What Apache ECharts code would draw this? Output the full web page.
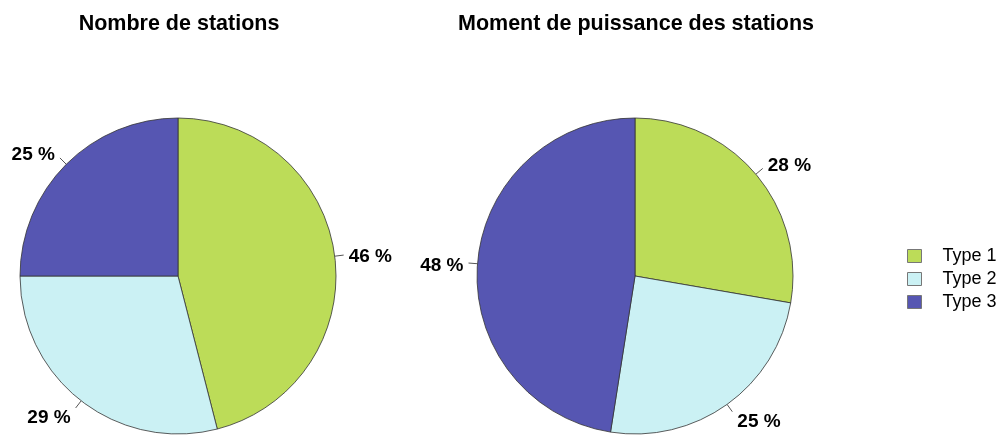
<!DOCTYPE html>
<html>
<head>
<meta charset="utf-8">
<script src="https://cdn.jsdelivr.net/npm/echarts@6/dist/echarts.min.js"></script>
<style>
  html, body { margin: 0; padding: 0; background: #fff; }
  #chart { width: 1005px; height: 435px; }
</style>
</head>
<body>
<div id="chart"></div>
<script>
// Station types and their shares (percent)
const types = ['Type 1', 'Type 2', 'Type 3'];
const stationCount = [46, 29, 25];
const stationMoment = [28, 25, 48];
const titles = ['Nombre de stations', 'Moment de puissance des stations'];
const colors = ['#bcdc58', '#cbf1f4', '#5656b2'];

const font = 'Liberation Sans, Arial, Helvetica, sans-serif';
const seriesValues = [stationCount, stationMoment];

// Vertical nudge for a slice label: labels in the lower half sit below the end
// of their tick, labels in the upper half sit above it.
function labelShift(values, i) {
  const sum = values.reduce((a, b) => a + b, 0);
  let before = 0;
  for (let k = 0; k < i; k++) before += values[k];
  const theta = 2 * Math.PI * (before + values[i] / 2) / sum;
  return -Math.cos(theta) * 9 + 3;
}

function pieSeries(name, values, cx) {
  return {
    name: name,
    type: 'pie',
    center: [cx, 276],
    radius: 158,
    startAngle: 90,
    clockwise: true,
    animation: false,
    silent: true,
    itemStyle: { borderColor: '#333', borderWidth: 0.8 },
    label: {
      show: true,
      position: 'outside',
      formatter: p => p.value + ' %',
      fontFamily: font,
      fontWeight: 'bold',
      fontSize: 19,
      color: '#000',
      distanceToLabelLine: 5
    },
    labelLine: {
      show: true,
      length: 9,
      length2: 0,
      lineStyle: { color: '#555', width: 1 }
    },
    labelLayout: function (params) {
      const vals = seriesValues[params.seriesIndex];
      return {
        dy: labelShift(vals, params.dataIndex),
        labelLinePoints: params.labelLinePoints
      };
    },
    emphasis: { disabled: true },
    data: types.map((t, i) => ({ name: t, value: values[i] }))
  };
}

const chart = echarts.init(document.getElementById('chart'), null, { renderer: 'canvas' });
chart.setOption({
  color: colors,
  animation: false,
  title: [
    { text: titles[0], left: 174, top: 8, textAlign: 'center',
      textStyle: { fontFamily: font, fontWeight: 'bold', fontSize: 21.5, color: '#000' } },
    { text: titles[1], left: 631, top: 8, textAlign: 'center',
      textStyle: { fontFamily: font, fontWeight: 'bold', fontSize: 21.5, color: '#000' } }
  ],
  legend: {
    orient: 'vertical',
    left: 902,
    top: 242,
    icon: 'rect',
    itemWidth: 14,
    itemHeight: 13,
    itemGap: 5,
    selectedMode: false,
    data: types,
    itemStyle: { borderColor: '#777', borderWidth: 1 },
    textStyle: { fontFamily: font, fontSize: 18, color: '#000', padding: [0, 0, 0, 16] }
  },
  series: [
    pieSeries(titles[0], stationCount, 178),
    pieSeries(titles[1], stationMoment, 635)
  ]
});
</script>
</body>
</html>
